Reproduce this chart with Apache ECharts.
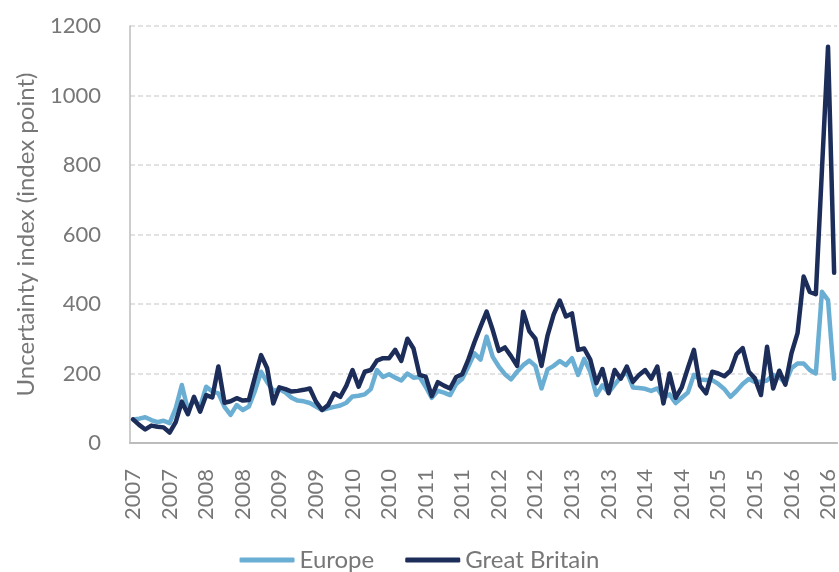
<!DOCTYPE html>
<html>
<head>
<meta charset="utf-8">
<script src="https://cdn.jsdelivr.net/npm/echarts@6/dist/echarts.min.js"></script>
<style>
  html, body { margin: 0; padding: 0; background: #fff; }
  #chart { width: 839px; height: 572px; }
</style>
</head>
<body>
<div id="chart"></div>
<script>
// monthly, Jan 2007 onwards (axis labels show the year every 6 months)
var years = [2007, 2008, 2009, 2010, 2011, 2012, 2013, 2014, 2015, 2016];
var europe = [
  68, 70, 74, 66, 60, 64, 57, 100, 167, 95, 124, 104,
  162, 148, 143, 104, 81, 109, 95, 105, 150, 205, 175, 150,
  155, 145, 130, 122, 120, 115, 105, 95, 100, 104, 108, 116,
  134, 136, 140, 155, 210, 190, 198, 188, 180, 200, 188, 190,
  162, 130, 150, 145, 138, 170, 185, 220, 258, 240, 306, 248,
  220, 198, 183, 205, 224, 237, 222, 157, 212, 222, 236, 224,
  244, 196, 242, 205, 138, 166, 145, 168, 190, 205, 160, 158,
  156, 150, 157, 130, 140, 115, 130, 145, 196, 183, 181, 181,
  170, 155, 133, 150, 170, 184, 176, 176, 180, 196, 190, 172,
  215, 229, 229, 210, 200, 435, 411, 185
];
var greatBritain = [
  68, 52, 39, 50, 47, 45, 30, 60, 119, 83, 133, 90,
  138, 131, 220, 116, 120, 129, 122, 124, 190, 253, 215, 114,
  160, 155, 148, 150, 153, 157, 119, 95, 109, 143, 133, 165,
  210, 162, 205, 210, 237, 244, 244, 268, 236, 300, 272, 196,
  191, 135, 175, 165, 157, 190, 198, 240, 290, 335, 378, 325,
  265, 275, 250, 222, 378, 322, 300, 222, 310, 370, 410, 364,
  373, 268, 272, 240, 172, 213, 143, 210, 185, 220, 176, 196,
  210, 185, 220, 114, 200, 130, 160, 215, 268, 165, 143, 205,
  200, 192, 208, 256, 273, 205, 186, 138, 277, 157, 208, 168,
  258, 316, 479, 435, 428, 785, 1140, 490
];

var months = [];
for (var i = 0; i < europe.length; i++) {
  months.push(String(years[Math.floor(i / 12)]));
}

var textColor = "#777777";
var font = "Lato";

var myChart = echarts.init(document.getElementById("chart"));
var option = {
  animation: false,
  textStyle: { fontFamily: font },
  grid: {
    left: 130,
    right: -4,
    top: 26,
    bottom: 129,
  },
  legend: {
    data: ["Europe", "Great Britain"],
    left: "center",
    top: 543,
    icon: "roundRect",
    itemWidth: 55,
    itemHeight: 5,
    itemGap: 31,
    textStyle: { color: textColor, fontSize: 24, fontFamily: font },
  },
  xAxis: {
    type: "category",
    data: months,
    boundaryGap: true,
    axisLine: { lineStyle: { color: "#bcbcbc", width: 2 } },
    axisTick: { show: false },
    axisLabel: {
      interval: 5,
      rotate: 90,
      margin: 26,
      color: textColor,
      fontSize: 22,
      fontFamily: font,
    },
  },
  yAxis: {
    type: "value",
    min: 0,
    max: 1200,
    interval: 200,
    name: "Uncertainty index (index point)",
    nameLocation: "middle",
    nameGap: 92,
    nameRotate: 90,
    nameTextStyle: { color: textColor, fontSize: 24, fontFamily: font },
    axisLine: { show: true, lineStyle: { color: "#bcbcbc", width: 1.5 } },
    axisTick: { show: false },
    axisLabel: {
      margin: 29,
      color: textColor,
      fontSize: 22,
      fontFamily: font,
      formatter: function (v) { return String(v); },
    },
    splitLine: {
      lineStyle: { color: "#d9d9d9", width: 1.5, type: [5, 3] },
    },
  },
  series: [
    {
      name: "Europe",
      type: "line",
      data: europe,
      symbol: "none",
      color: "#6aaed3",
      lineStyle: { width: 4.5, join: "round", cap: "round" },
    },
    {
      name: "Great Britain",
      type: "line",
      data: greatBritain,
      symbol: "none",
      color: "#1c2d5a",
      lineStyle: { width: 4.5, join: "round", cap: "round" },
    },
  ],
};
myChart.setOption(option);
</script>
</body>
</html>
